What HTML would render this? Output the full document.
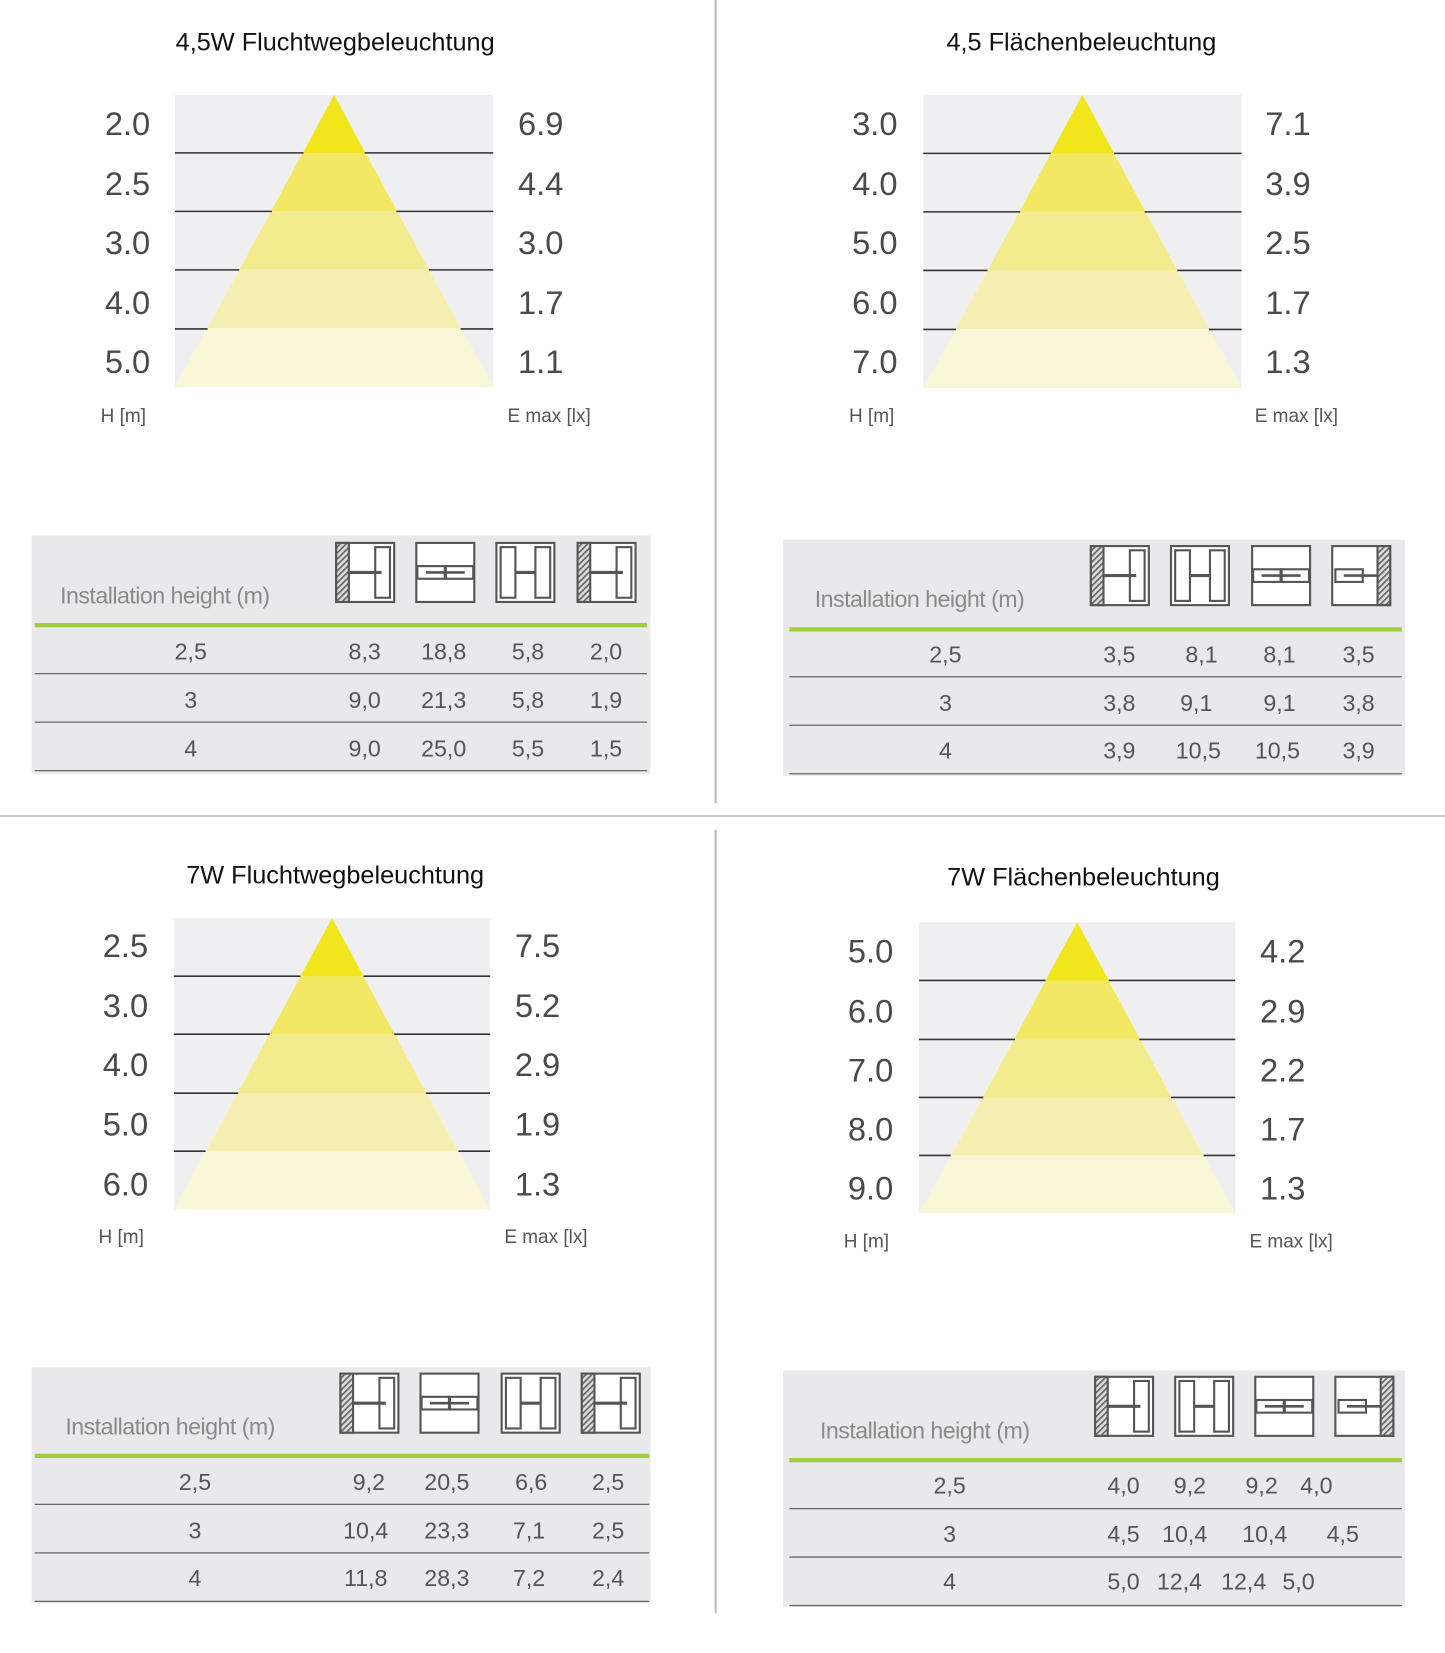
<!DOCTYPE html>
<html><head><meta charset="utf-8"><style>
html,body{margin:0;padding:0;background:#fff}
svg{display:block}
.t{font-family:"Liberation Sans",sans-serif;font-size:24px;fill:#111;text-anchor:middle}
.n{font-family:"Liberation Sans Narrow","Liberation Sans",sans-serif;font-size:31px;fill:#4a4a4a;text-anchor:middle;dominant-baseline:central}
.u{font-family:"Liberation Sans",sans-serif;font-size:18px;fill:#555;text-anchor:middle;dominant-baseline:central}
.h{font-family:"Liberation Sans",sans-serif;font-size:22px;fill:#8a8a8a;dominant-baseline:central;letter-spacing:-0.5px}
.v{font-family:"Liberation Sans",sans-serif;font-size:22px;fill:#555;text-anchor:middle;dominant-baseline:central}
</style></head><body>
<svg width="1445" height="1653" viewBox="0 0 1371 1568" preserveAspectRatio="none" xmlns="http://www.w3.org/2000/svg">
<defs>
<pattern id="hp" width="4" height="4" patternUnits="userSpaceOnUse" patternTransform="rotate(45)"><rect width="4" height="4" fill="#ddd"/><rect width="1.6" height="4" fill="#666"/></pattern>
<g id="iA" fill="none" stroke="#555" stroke-width="2"><rect x="1" y="1" width="55" height="56" fill="#fff"/><rect x="1" y="1" width="12" height="56" fill="url(#hp)"/><rect x="38" y="5" width="14" height="48"/><line x1="13" y1="29" x2="44" y2="29" stroke-width="3"/></g>
<g id="iB" fill="none" stroke="#555" stroke-width="2"><rect x="1" y="1" width="55" height="56" fill="#fff"/><rect x="2" y="23" width="26" height="12"/><rect x="29" y="23" width="26" height="12"/><line x1="10" y1="29" x2="47" y2="29" stroke-width="2.5"/></g>
<g id="iC" fill="none" stroke="#555" stroke-width="2"><rect x="1" y="1" width="55" height="56" fill="#fff"/><rect x="5" y="5" width="14" height="48"/><rect x="38" y="5" width="14" height="48"/><line x1="19" y1="29" x2="38" y2="29" stroke-width="3"/></g>
<g id="iD" fill="none" stroke="#555" stroke-width="2"><rect x="1" y="1" width="55" height="56" fill="#fff"/><rect x="44" y="1" width="12" height="56" fill="url(#hp)"/><rect x="4" y="23" width="26" height="12"/><line x1="12" y1="29" x2="44" y2="29" stroke-width="2.5"/></g>
</defs>
<rect width="1371" height="1568" fill="#fff"/>
<line x1="679" y1="0" x2="679" y2="762" stroke="#bbb" stroke-width="2"/>
<line x1="679" y1="787" x2="679" y2="1530" stroke="#bbb" stroke-width="2"/>
<line x1="0" y1="774" x2="1371" y2="774" stroke="#ccc" stroke-width="2"/>

<!-- Q1 -->
<text class="t" x="318" y="48">4,5W Fluchtwegbeleuchtung</text>
<g transform="translate(166,90)">
<rect width="302" height="277" fill="#efeff1"/>
<polygon points="151,0 0,277 302,277" fill="#f8f6d6"/>
<polygon points="151,0 30.8,221.4 271.2,221.4" fill="#f5f0b1"/>
<polygon points="151,0 61.4,165.4 240.6,165.4" fill="#f3ec8e"/>
<polygon points="151,0 91.6,110 210.4,110" fill="#f2e863"/>
<polygon points="151,0 122,55 180,55" fill="#f1e51c"/>
<g stroke="#333" stroke-width="1.5"><line x1="0" y1="55" x2="122" y2="55"/><line x1="180" y1="55" x2="302" y2="55"/><line x1="0" y1="110.5" x2="92" y2="110.5"/><line x1="210" y1="110.5" x2="302" y2="110.5"/><line x1="0" y1="166" x2="61" y2="166"/><line x1="241" y1="166" x2="302" y2="166"/><line x1="0" y1="222" x2="31" y2="222"/><line x1="271" y1="222" x2="302" y2="222"/></g>
</g>
<g class="n"><text x="121" y="117">2.0</text><text x="121" y="174">2.5</text><text x="121" y="230">3.0</text><text x="121" y="287">4.0</text><text x="121" y="343">5.0</text>
<text x="513" y="117">6.9</text><text x="513" y="174">4.4</text><text x="513" y="230">3.0</text><text x="513" y="287">1.7</text><text x="513" y="343">1.1</text></g>
<text class="u" x="117" y="395">H [m]</text><text class="u" x="521" y="395">E max [lx]</text>
<rect x="30" y="508" width="587" height="226" fill="#e9e9eb"/>
<text class="h" x="57" y="565">Installation height (m)</text>
<use href="#iA" x="318" y="514"/><use href="#iB" x="394" y="514"/><use href="#iC" x="470" y="514"/><use href="#iA" x="547" y="514"/>
<line x1="33" y1="593" x2="614" y2="593" stroke="#9fcd3c" stroke-width="4"/>
<g stroke="#666" stroke-width="1.2"><line x1="33" y1="639" x2="614" y2="639"/><line x1="33" y1="685" x2="614" y2="685"/><line x1="33" y1="731" x2="614" y2="731"/></g>
<g class="v"><text x="181" y="618">2,5</text><text x="346" y="618">8,3</text><text x="421" y="618">18,8</text><text x="501" y="618">5,8</text><text x="575" y="618">2,0</text>
<text x="181" y="664">3</text><text x="346" y="664">9,0</text><text x="421" y="664">21,3</text><text x="501" y="664">5,8</text><text x="575" y="664">1,9</text>
<text x="181" y="710">4</text><text x="346" y="710">9,0</text><text x="421" y="710">25,0</text><text x="501" y="710">5,5</text><text x="575" y="710">1,5</text></g>

<!-- Q2 -->
<text class="t" x="1026" y="48">4,5 Flächenbeleuchtung</text>
<g transform="translate(876,90)">
<rect width="302" height="278" fill="#efeff1"/>
<polygon points="151,0 0,278 302,278" fill="#f8f6d6"/>
<polygon points="151,0 30.8,222 271.2,222" fill="#f5f0b1"/>
<polygon points="151,0 61.4,166 240.6,166" fill="#f3ec8e"/>
<polygon points="151,0 91.6,110.5 210.4,110.5" fill="#f2e863"/>
<polygon points="151,0 121,55.5 181,55.5" fill="#f1e51c"/>
<g stroke="#333" stroke-width="1.5"><line x1="0" y1="55.5" x2="121" y2="55.5"/><line x1="181" y1="55.5" x2="302" y2="55.5"/><line x1="0" y1="111" x2="92" y2="111"/><line x1="210" y1="111" x2="302" y2="111"/><line x1="0" y1="166.5" x2="61" y2="166.5"/><line x1="241" y1="166.5" x2="302" y2="166.5"/><line x1="0" y1="222.5" x2="31" y2="222.5"/><line x1="271" y1="222.5" x2="302" y2="222.5"/></g>
</g>
<g class="n"><text x="830" y="117">3.0</text><text x="830" y="174">4.0</text><text x="830" y="230">5.0</text><text x="830" y="287">6.0</text><text x="830" y="343">7.0</text>
<text x="1222" y="117">7.1</text><text x="1222" y="174">3.9</text><text x="1222" y="230">2.5</text><text x="1222" y="287">1.7</text><text x="1222" y="343">1.3</text></g>
<text class="u" x="827" y="395">H [m]</text><text class="u" x="1230" y="395">E max [lx]</text>
<rect x="743" y="512" width="590" height="224" fill="#e9e9eb"/>
<text class="h" x="773" y="568">Installation height (m)</text>
<use href="#iA" x="1034" y="517"/><use href="#iC" x="1110" y="517"/><use href="#iB" x="1187" y="517"/><use href="#iD" x="1263" y="517"/>
<line x1="749" y1="597" x2="1330" y2="597" stroke="#9fcd3c" stroke-width="4"/>
<g stroke="#666" stroke-width="1.2"><line x1="749" y1="642" x2="1330" y2="642"/><line x1="749" y1="688" x2="1330" y2="688"/><line x1="749" y1="734" x2="1330" y2="734"/></g>
<g class="v"><text x="897" y="621">2,5</text><text x="1062" y="621">3,5</text><text x="1140" y="621">8,1</text><text x="1214" y="621">8,1</text><text x="1289" y="621">3,5</text>
<text x="897" y="667">3</text><text x="1062" y="667">3,8</text><text x="1135" y="667">9,1</text><text x="1214" y="667">9,1</text><text x="1289" y="667">3,8</text>
<text x="897" y="712">4</text><text x="1062" y="712">3,9</text><text x="1137" y="712">10,5</text><text x="1212" y="712">10,5</text><text x="1289" y="712">3,9</text></g>

<!-- Q3 -->
<text class="t" x="318" y="838">7W Fluchtwegbeleuchtung</text>
<g transform="translate(165,871)">
<rect width="300" height="276" fill="#efeff1"/>
<polygon points="150,0 0,276 300,276" fill="#f8f6d6"/>
<polygon points="150,0 30.4,221 269.6,221" fill="#f5f0b1"/>
<polygon points="150,0 60.6,166 239.4,166" fill="#f3ec8e"/>
<polygon points="150,0 90.8,110 209.2,110" fill="#f2e863"/>
<polygon points="150,0 120,55 180,55" fill="#f1e51c"/>
<g stroke="#333" stroke-width="1.5"><line x1="0" y1="55" x2="120" y2="55"/><line x1="180" y1="55" x2="300" y2="55"/><line x1="0" y1="110" x2="91" y2="110"/><line x1="209" y1="110" x2="300" y2="110"/><line x1="0" y1="166" x2="61" y2="166"/><line x1="239" y1="166" x2="300" y2="166"/><line x1="0" y1="221" x2="30" y2="221"/><line x1="270" y1="221" x2="300" y2="221"/></g>
</g>
<g class="n"><text x="119" y="897">2.5</text><text x="119" y="954">3.0</text><text x="119" y="1010">4.0</text><text x="119" y="1066">5.0</text><text x="119" y="1123">6.0</text>
<text x="510" y="897">7.5</text><text x="510" y="954">5.2</text><text x="510" y="1010">2.9</text><text x="510" y="1066">1.9</text><text x="510" y="1123">1.3</text></g>
<text class="u" x="115" y="1174">H [m]</text><text class="u" x="518" y="1174">E max [lx]</text>
<rect x="30" y="1297" width="587" height="224" fill="#e9e9eb"/>
<text class="h" x="62" y="1353">Installation height (m)</text>
<use href="#iA" x="322" y="1302"/><use href="#iB" x="398" y="1302"/><use href="#iC" x="475" y="1302"/><use href="#iA" x="551" y="1302"/>
<line x1="33" y1="1381" x2="616" y2="1381" stroke="#9fcd3c" stroke-width="4"/>
<g stroke="#666" stroke-width="1.2"><line x1="33" y1="1427" x2="616" y2="1427"/><line x1="33" y1="1473" x2="616" y2="1473"/><line x1="33" y1="1519" x2="616" y2="1519"/></g>
<g class="v"><text x="185" y="1406">2,5</text><text x="350" y="1406">9,2</text><text x="424" y="1406">20,5</text><text x="504" y="1406">6,6</text><text x="577" y="1406">2,5</text>
<text x="185" y="1452">3</text><text x="347" y="1452">10,4</text><text x="424" y="1452">23,3</text><text x="502" y="1452">7,1</text><text x="577" y="1452">2,5</text>
<text x="185" y="1497">4</text><text x="347" y="1497">11,8</text><text x="424" y="1497">28,3</text><text x="502" y="1497">7,2</text><text x="577" y="1497">2,4</text></g>

<!-- Q4 -->
<text class="t" x="1028" y="840">7W Flächenbeleuchtung</text>
<g transform="translate(872,875)">
<rect width="300" height="276" fill="#efeff1"/>
<polygon points="150,0 0,276 300,276" fill="#f8f6d6"/>
<polygon points="150,0 30.4,221 269.6,221" fill="#f5f0b1"/>
<polygon points="150,0 60.6,166 239.4,166" fill="#f3ec8e"/>
<polygon points="150,0 90.8,110 209.2,110" fill="#f2e863"/>
<polygon points="150,0 120,55 180,55" fill="#f1e51c"/>
<g stroke="#333" stroke-width="1.5"><line x1="0" y1="55" x2="120" y2="55"/><line x1="180" y1="55" x2="300" y2="55"/><line x1="0" y1="111" x2="91" y2="111"/><line x1="209" y1="111" x2="300" y2="111"/><line x1="0" y1="166" x2="61" y2="166"/><line x1="239" y1="166" x2="300" y2="166"/><line x1="0" y1="221" x2="30" y2="221"/><line x1="270" y1="221" x2="300" y2="221"/></g>
</g>
<g class="n"><text x="826" y="902">5.0</text><text x="826" y="959">6.0</text><text x="826" y="1015">7.0</text><text x="826" y="1071">8.0</text><text x="826" y="1127">9.0</text>
<text x="1217" y="902">4.2</text><text x="1217" y="959">2.9</text><text x="1217" y="1015">2.2</text><text x="1217" y="1071">1.7</text><text x="1217" y="1127">1.3</text></g>
<text class="u" x="822" y="1178">H [m]</text><text class="u" x="1225" y="1178">E max [lx]</text>
<rect x="743" y="1300" width="590" height="224" fill="#e9e9eb"/>
<text class="h" x="778" y="1357">Installation height (m)</text>
<use href="#iA" x="1038" y="1305"/><use href="#iC" x="1114" y="1305"/><use href="#iB" x="1190" y="1305"/><use href="#iD" x="1266" y="1305"/>
<line x1="749" y1="1385" x2="1330" y2="1385" stroke="#9fcd3c" stroke-width="4"/>
<g stroke="#666" stroke-width="1.2"><line x1="749" y1="1431" x2="1330" y2="1431"/><line x1="749" y1="1477" x2="1330" y2="1477"/><line x1="749" y1="1523" x2="1330" y2="1523"/></g>
<g class="v"><text x="901" y="1409">2,5</text><text x="1066" y="1409">4,0</text><text x="1129" y="1409">9,2</text><text x="1197" y="1409">9,2</text><text x="1249" y="1409">4,0</text>
<text x="901" y="1455">3</text><text x="1066" y="1455">4,5</text><text x="1124" y="1455">10,4</text><text x="1200" y="1455">10,4</text><text x="1274" y="1455">4,5</text>
<text x="901" y="1500">4</text><text x="1066" y="1500">5,0</text><text x="1119" y="1500">12,4</text><text x="1180" y="1500">12,4</text><text x="1232" y="1500">5,0</text></g>
</svg>
</body></html>
